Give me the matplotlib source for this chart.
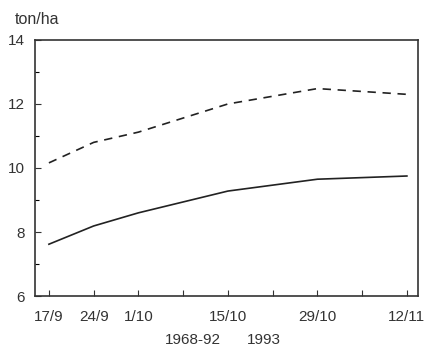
import matplotlib
matplotlib.use("Agg")
import matplotlib.pyplot as plt

# days after 17/9
days = [0, 7, 14, 28, 42, 56]
tick_days = [0, 7, 14, 21, 28, 35, 42, 49, 56]
tick_labels = ["17/9", "24/9", "1/10", "", "15/10", "", "29/10", "", "12/11"]

yield_6892 = [7.62, 8.19, 8.6, 9.28, 9.65, 9.75]
yield_1993 = [10.16, 10.8, 11.12, 12.0, 12.48, 12.3]

plt.rcParams['font.family'] = ['Liberation Sans', 'DejaVu Sans']

fig = plt.figure(figsize=(4.25, 3.5), dpi=100)
ax = fig.add_axes([0.082, 0.154, 0.901, 0.732])

ax.plot(days, yield_6892, color="#222222", lw=1.2, ls="-", label="1968-92")
ax.plot(days, yield_1993, color="#222222", lw=1.2, ls=(0, (5, 4)), label="1993")

ax.set_xlim(-2.2, 57.7)
ax.set_ylim(6, 14)
ax.set_yticks([6, 8, 10, 12, 14])
ax.set_yticks([7, 9, 11, 13], minor=True)
ax.set_xticks(tick_days)
ax.set_xticklabels(tick_labels)

ax.tick_params(direction="in", length=4, width=0.8, labelsize=11, colors="#333333")
ax.tick_params(axis="x", pad=10)
ax.tick_params(axis="y", pad=7)
ax.tick_params(which="minor", direction="in", length=3, width=0.8)
for s in ax.spines.values():
    s.set_linewidth(1.2)
    s.set_color("#333333")

fig.text(0.035, 0.945, "ton/ha", fontsize=11.5, color="#333333", va="center")
fig.text(0.454, 0.03, "1968-92", fontsize=11, color="#333333", ha="center", va="center")
fig.text(0.621, 0.03, "1993", fontsize=11, color="#333333", ha="center", va="center")

fig.savefig("out.png", dpi=100)
